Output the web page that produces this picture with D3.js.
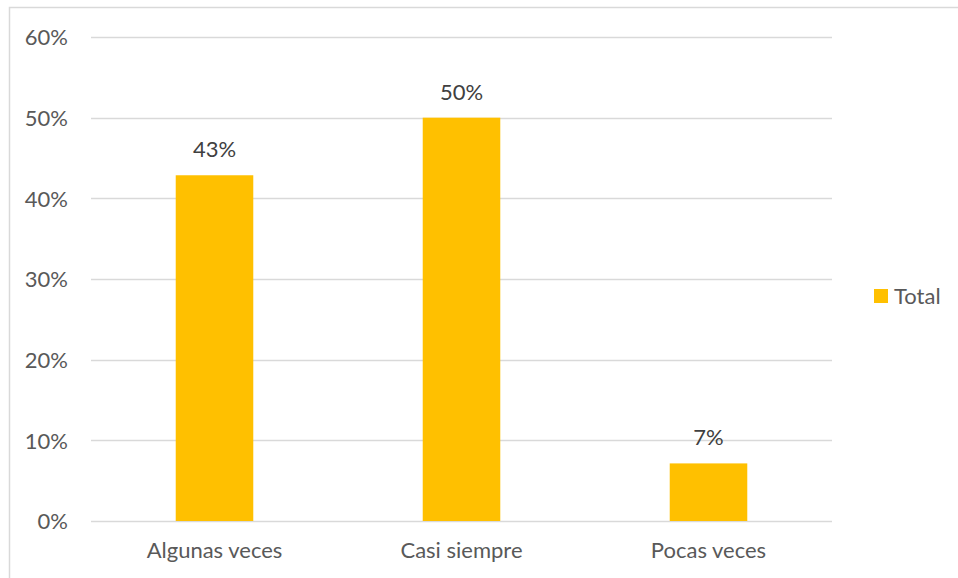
<!DOCTYPE html>
<html><head><meta charset="utf-8">
<script src="https://cdn.jsdelivr.net/npm/d3@7"></script>
<style>body{margin:0;background:#fff;} svg{display:block;} text{font-family:Lato,"Open Sans",sans-serif;}</style>
</head><body>
<svg id="chart" width="958" height="578"></svg>
<script>
const categories = ["Algunas veces", "Casi siempre", "Pocas veces"];
const values = [0.4286, 0.50, 0.0714];
const labels = ["43%", "50%", "7%"];
const yTicks = [0, 0.1, 0.2, 0.3, 0.4, 0.5, 0.6];
const seriesName = "Total";
const fs = "22px";

const svg = d3.select("#chart");
svg.append("rect").attr("x",9.5).attr("y",7.5).attr("width",960).attr("height",600)
  .attr("fill","#fff").attr("stroke","#d9d9d9").attr("stroke-width",1.5);

const x = d3.scaleBand().domain(categories).range([91,832]).paddingInner(0.686).paddingOuter(0.343);
const y = d3.scaleLinear().domain([0,0.6]).range([521,37]);

const grid = svg.append("g");
grid.selectAll("line").data(yTicks).join("line")
  .attr("x1",91).attr("x2",832).attr("y1",d=>Math.round(y(d))+0.5).attr("y2",d=>Math.round(y(d))+0.5)
  .attr("stroke","#d9d9d9").attr("stroke-width",1.5);

const yAxis = svg.append("g").attr("transform","translate(68,0)")
  .call(d3.axisLeft(y).tickValues(yTicks).tickFormat(d3.format(".0%")).tickSize(0).tickPadding(0));
yAxis.select(".domain").remove();
yAxis.selectAll("text").attr("fill","#595959").style("font-size",fs).attr("dy","0.35em");

svg.append("g").selectAll("rect").data(values).join("rect")
  .attr("x",(d,i)=>x(categories[i])).attr("width",x.bandwidth())
  .attr("y",d=>y(d)).attr("height",d=>y(0)-y(d)).attr("fill","#ffc000");

svg.append("g").selectAll("text").data(values).join("text")
  .attr("x",(d,i)=>x(categories[i])+x.bandwidth()/2).attr("y",d=>y(d)-18)
  .attr("text-anchor","middle").attr("fill","#404040").style("font-size",fs)
  .text((d,i)=>labels[i]);

const xAxis = svg.append("g").attr("transform","translate(0,521)")
  .call(d3.axisBottom(x).tickSize(0).tickPadding(0));
xAxis.select(".domain").remove();
xAxis.selectAll("text").attr("y",37).attr("dy",0).attr("fill","#595959").style("font-size",fs);

const leg = svg.append("g");
leg.append("rect").attr("x",874).attr("y",289).attr("width",14).attr("height",14).attr("fill","#ffc000");
leg.append("text").attr("x",894).attr("y",304).attr("fill","#595959").style("font-size",fs).text(seriesName);
</script>
</body></html>
